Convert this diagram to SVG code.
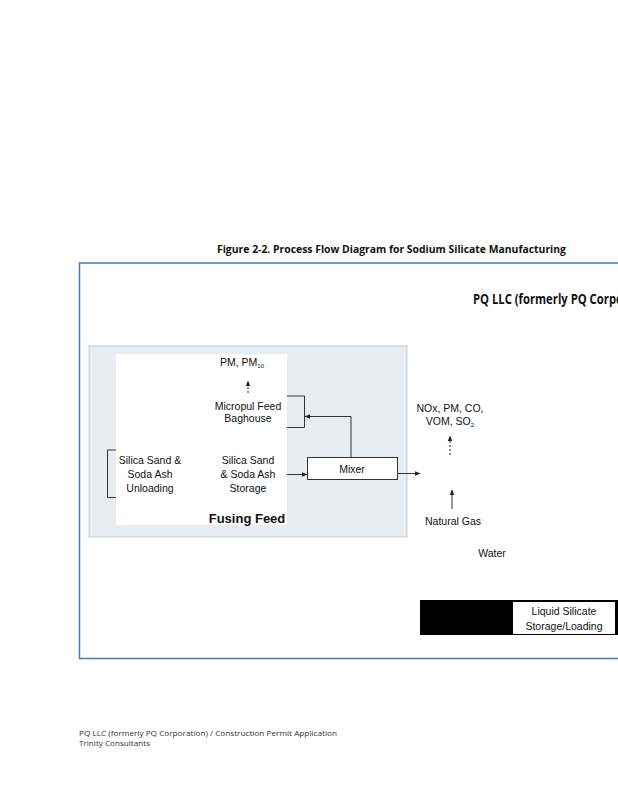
<svg xmlns="http://www.w3.org/2000/svg" width="618" height="800" viewBox="0 0 618 800">
<defs>
<marker id="ah" viewBox="0 0 10 10" refX="9" refY="5" markerWidth="6" markerHeight="6" orient="auto-start-reverse" markerUnits="userSpaceOnUse"><path d="M0,1 L10,5 L0,9 Z" fill="#222"/></marker>
<style>
.t{font-family:"Liberation Sans",Arial,sans-serif;font-size:10.5px;fill:#111;text-anchor:middle}
.ln{stroke:#333;stroke-width:1;fill:none}
.dash{stroke:#222;stroke-width:1;stroke-dasharray:2,2;fill:none}
.hd{font-family:"Open Sans","Liberation Sans",sans-serif;font-weight:bold;fill:#111}
</style>
</defs>
<rect width="618" height="800" fill="#fff"/>
<text class="hd" x="217" y="253" font-size="10" textLength="349" lengthAdjust="spacingAndGlyphs">Figure 2-2. Process Flow Diagram for Sodium Silicate Manufacturing</text>
<g id="frame">
<path d="M618,263 L79.5,263 L79.5,658.5 L618,658.5" fill="none" stroke="#3f7cb8" stroke-width="1.5"/>
</g>
<text class="hd" x="473" y="304" font-size="13.5" textLength="150" lengthAdjust="spacingAndGlyphs">PQ LLC (formerly PQ Corpo</text>
<g id="fusing-feed">
<rect x="89" y="346" width="318" height="191" fill="#e9ecf1" stroke="#c4c9d0" stroke-width="1"/>
<rect x="116" y="354" width="171" height="171" fill="#fff"/>
<text x="247" y="523" font-family="Liberation Sans,Arial,sans-serif" font-weight="bold" font-size="13" text-anchor="middle" fill="#111">Fusing Feed</text>
</g>
<g id="unloading">
<path d="M116,450 L107.5,450 L107.5,497.5 L116,497.5" class="ln" stroke="#444"/>
<text class="t" x="150" y="464">Silica Sand &amp;</text>
<text class="t" x="150" y="478">Soda Ash</text>
<text class="t" x="150" y="492">Unloading</text>
</g>
<g id="storage">
<text class="t" x="248" y="464">Silica Sand</text>
<text class="t" x="248" y="478">&amp; Soda Ash</text>
<text class="t" x="248" y="492">Storage</text>
</g>
<g id="baghouse">
<path d="M287,396 L304.5,396 L304.5,427.5 L287,427.5" class="ln"/>
<text class="t" x="248" y="410">Micropul Feed</text>
<text class="t" x="248" y="422">Baghouse</text>
</g>
<g id="pm-emissions">
<text class="t" x="242" y="366" font-size="9.5">PM, PM<tspan font-size="6" dy="2">10</tspan></text>
</g>
<g id="mixer">
<rect x="307.5" y="457.5" width="90" height="22" fill="#fff" stroke="#333"/>
<text class="t" x="352" y="473">Mixer</text>
</g>
<g id="furnace-emissions">
<text class="t" x="450" y="412" font-size="9.5">NOx, PM, CO,</text>
<text class="t" x="450" y="425" font-size="9.5">VOM, SO<tspan font-size="6" dy="2">2</tspan></text>
</g>
<g id="natural-gas"><text class="t" x="453" y="525" font-size="9.5">Natural Gas</text></g>
<g id="water"><text class="t" x="492" y="557" font-size="9.5">Water</text></g>
<g id="liquid-silicate">
<rect x="420" y="600" width="198" height="35" fill="#000"/>
<rect x="512.5" y="601.5" width="103" height="33" fill="#fff" stroke="#000"/>
<text class="t" x="564" y="615" font-size="11">Liquid Silicate</text>
<text class="t" x="564" y="630" font-size="11">Storage/Loading</text>
</g>
<g id="connectors">
<path class="dash" d="M248,393 L248,381" marker-end="url(#ah)"/>
<path class="ln" d="M351,457 L351,416.5 L305,416.5" marker-end="url(#ah)"/>
<path class="ln" d="M287,474.5 L307,474.5" marker-end="url(#ah)"/>
<path class="ln" d="M398,473.5 L420,473.5" marker-end="url(#ah)"/>
<path class="dash" d="M450,455 L450,436" marker-end="url(#ah)"/>
<path class="ln" d="M452,509 L452,490" marker-end="url(#ah)"/>
</g>
<g id="footer" font-family="Open Sans,Liberation Sans,sans-serif" font-size="8" fill="#333">
<text x="79" y="736" textLength="258" lengthAdjust="spacingAndGlyphs">PQ LLC (formerly PQ Corporation) / Construction Permit Application</text>
<text x="79" y="746" textLength="71" lengthAdjust="spacingAndGlyphs">Trinity Consultants</text>
</g>
</svg>
